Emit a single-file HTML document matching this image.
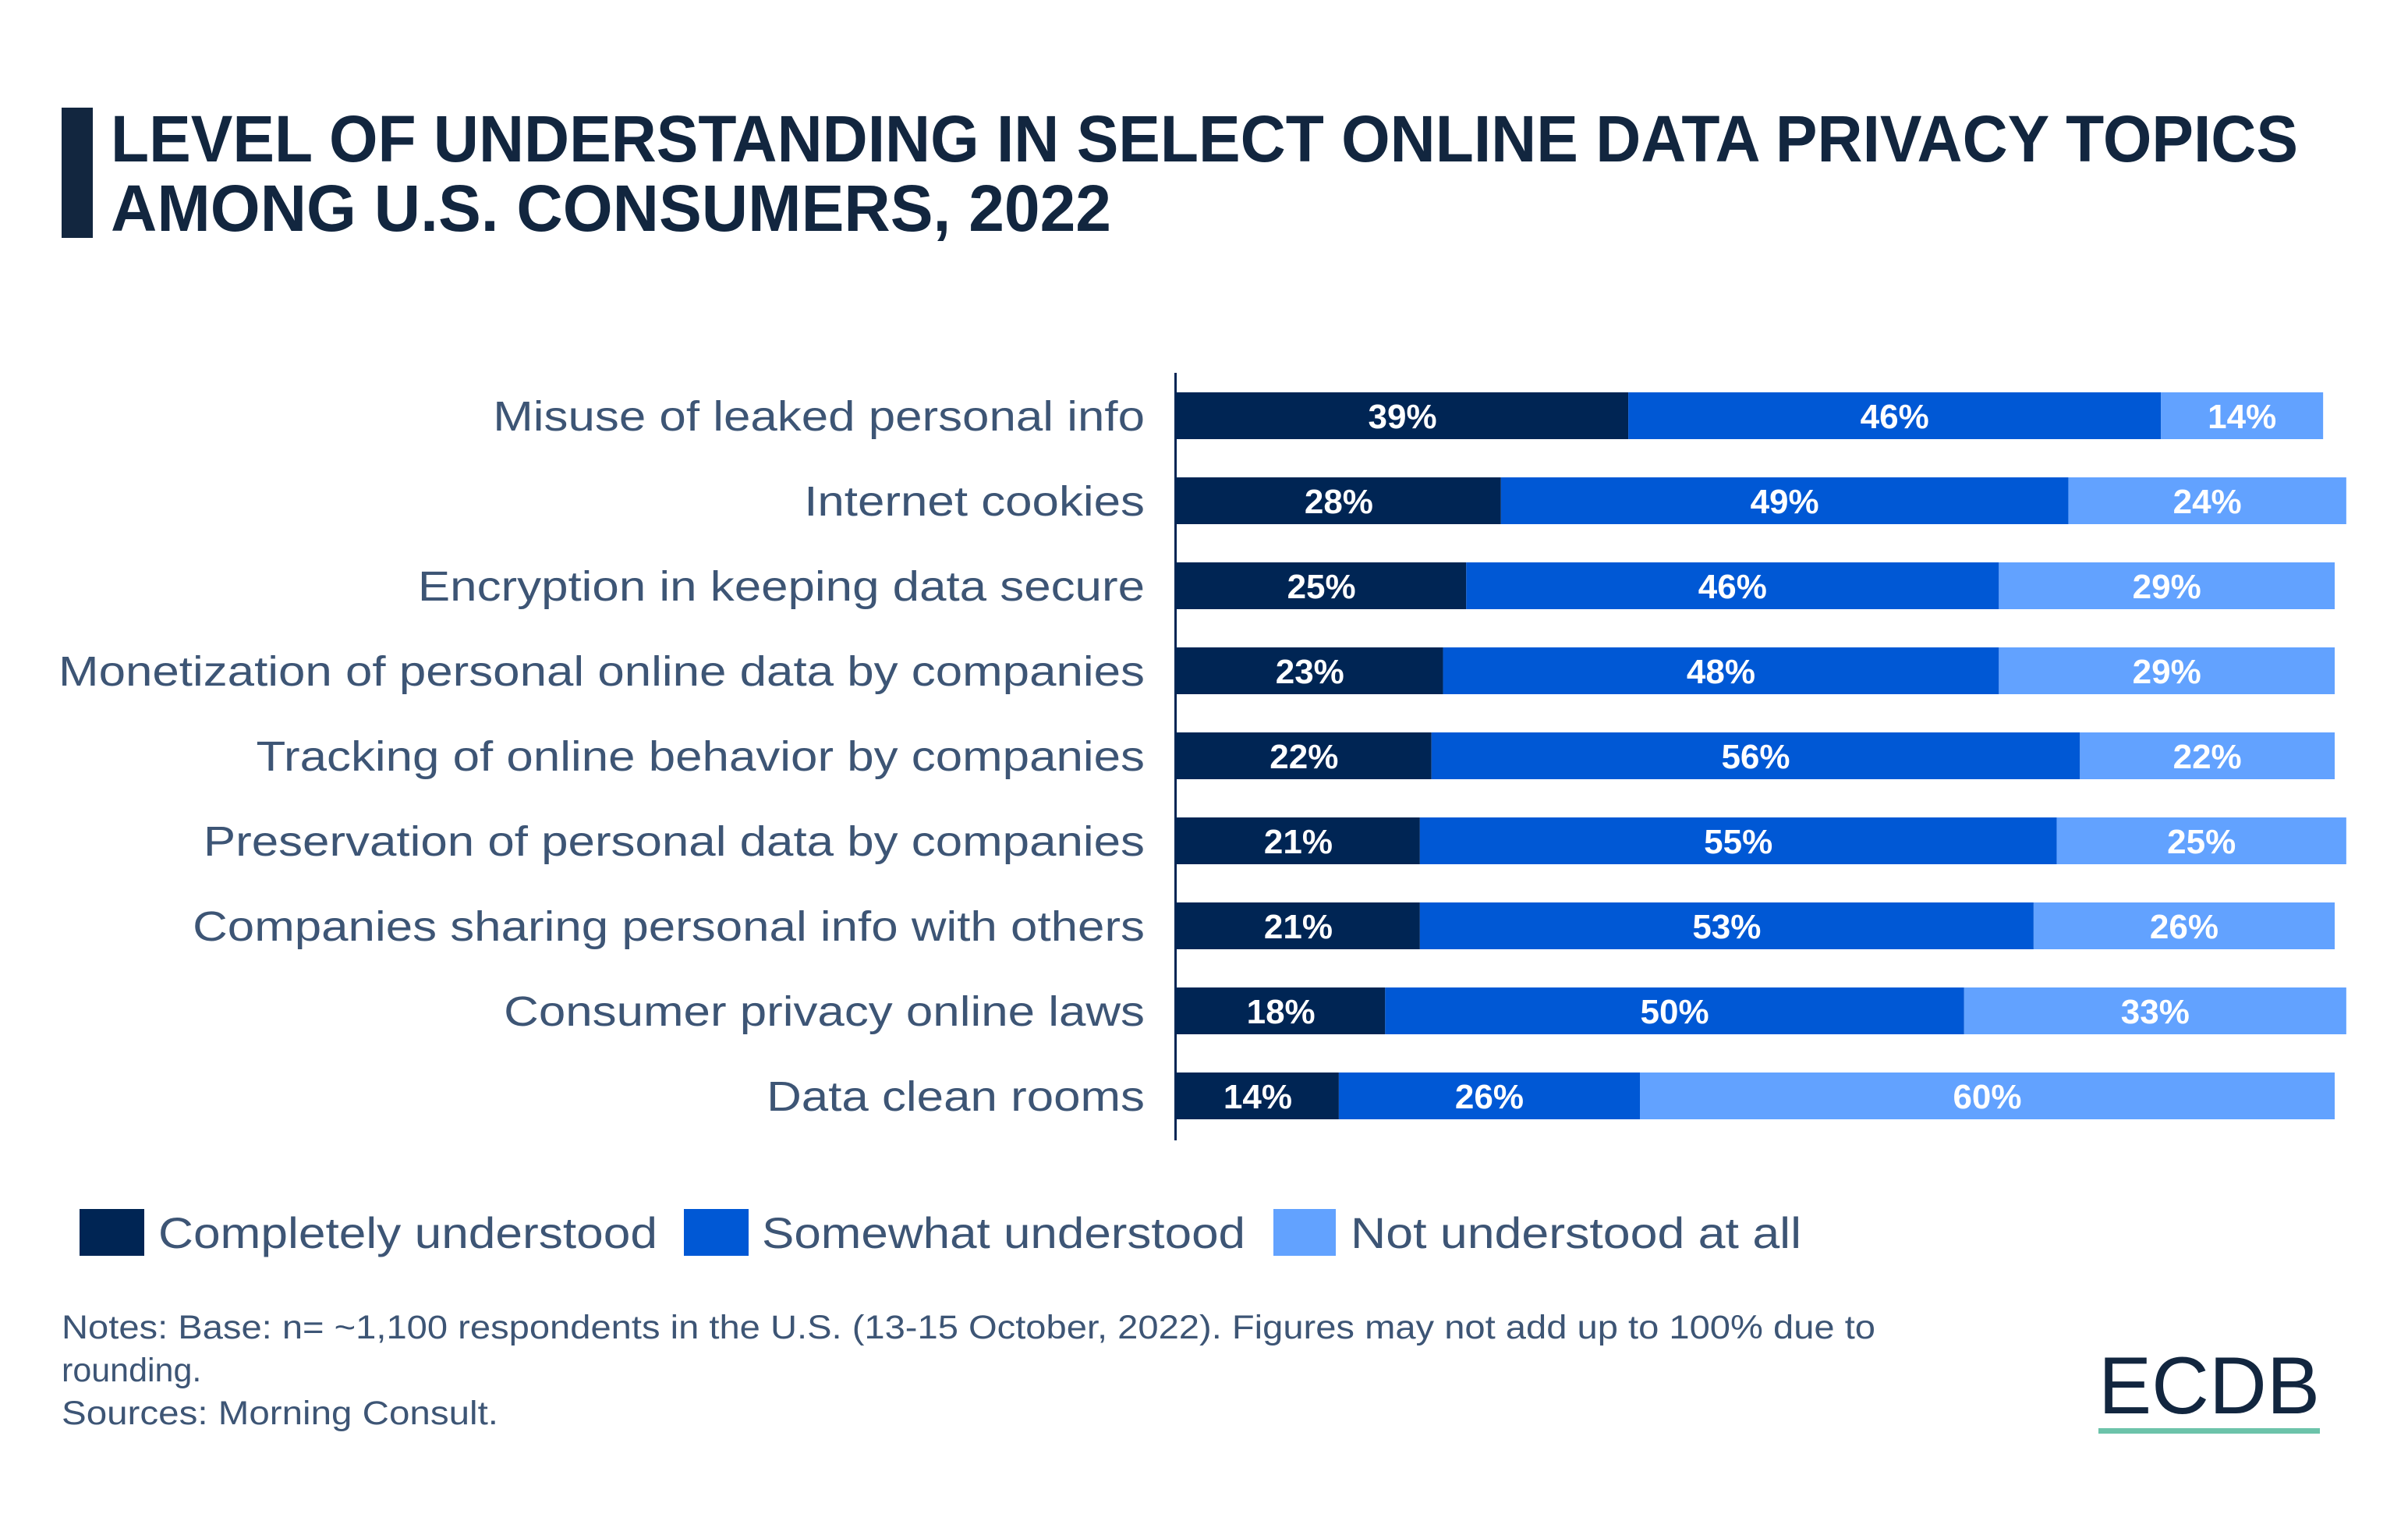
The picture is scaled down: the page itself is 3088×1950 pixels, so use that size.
<!DOCTYPE html>
<html><head><meta charset="utf-8"><style>
html,body{margin:0;padding:0;background:#fff;}
svg{display:block;}
</style></head><body>
<svg id="chart" width="3088" height="1950" viewBox="0 0 3088 1950" xmlns="http://www.w3.org/2000/svg">
<rect x="79" y="138" width="40" height="167" fill="#12263f"/>
<text x="142" y="207" font-family="Liberation Sans, sans-serif" font-weight="bold" font-size="84" fill="#12263f" textLength="2805" lengthAdjust="spacingAndGlyphs">LEVEL OF UNDERSTANDING IN SELECT ONLINE DATA PRIVACY TOPICS</text>
<text x="142" y="296" font-family="Liberation Sans, sans-serif" font-weight="bold" font-size="84" fill="#12263f" textLength="1283" lengthAdjust="spacingAndGlyphs">AMONG U.S. CONSUMERS, 2022</text>
<g id="bars"></g>
<g id="labels" transform="translate(1468,0) scale(1.146,1) translate(-1468,0)"></g>
<line x1="1507.5" y1="478" x2="1507.5" y2="1462" stroke="#002554" stroke-width="3"/>
<g>
<g><rect x="102" y="1550" width="83" height="60" fill="#002554"/><text x="203" y="1600" font-family="Liberation Sans, sans-serif" font-size="56" fill="#3d5575" textLength="640" lengthAdjust="spacingAndGlyphs">Completely understood</text></g>
<g><rect x="877" y="1550" width="83" height="60" fill="#0058d5"/><text x="977" y="1600" font-family="Liberation Sans, sans-serif" font-size="56" fill="#3d5575" textLength="620" lengthAdjust="spacingAndGlyphs">Somewhat understood</text></g>
<g><rect x="1633" y="1550" width="80" height="60" fill="#62a2ff"/><text x="1732" y="1600" font-family="Liberation Sans, sans-serif" font-size="56" fill="#3d5575" textLength="578" lengthAdjust="spacingAndGlyphs">Not understood at all</text></g>
</g>
<g font-family="Liberation Sans, sans-serif" font-size="43" fill="#3d5575">
<text x="79" y="1716" textLength="2326" lengthAdjust="spacingAndGlyphs">Notes: Base: n= ~1,100 respondents in the U.S. (13-15 October, 2022). Figures may not add up to 100% due to</text>
<text x="79" y="1771">rounding.</text>
<text x="79" y="1826" textLength="560" lengthAdjust="spacingAndGlyphs">Sources: Morning Consult.</text>
</g>
<text x="2691" y="1812" font-family="Liberation Sans, sans-serif" font-size="104" fill="#12263f" textLength="284" lengthAdjust="spacingAndGlyphs">ECDB</text>
<rect x="2691" y="1831" width="284" height="7" fill="#6cc3aa"/>
</svg>
<script>
const categories = ["Misuse of leaked personal info","Internet cookies","Encryption in keeping data secure","Monetization of personal online data by companies","Tracking of online behavior by companies","Preservation of personal data by companies","Companies sharing personal info with others","Consumer privacy online laws","Data clean rooms"];
const completely = [39,28,25,23,22,21,21,18,14];
const somewhat = [46,49,46,48,56,55,53,50,26];
const notAtAll = [14,24,29,29,22,25,26,33,60];

const NS = "http://www.w3.org/2000/svg";
const x0 = 1509, pxPer = 14.85;
const rowY0 = 533, rowStep = 109, barH = 60;
function xScale(v){ return x0 + v * pxPer; }
function yScale(i){ return rowY0 + i * rowStep; }
const series = [
  {vals: completely, color: "#002554", name: "completely"},
  {vals: somewhat, color: "#0058d5", name: "somewhat"},
  {vals: notAtAll, color: "#62a2ff", name: "not"}
];
const bars = document.getElementById("bars");
const labels = document.getElementById("labels");
categories.forEach((cat, i) => {
  const cy = yScale(i);
  let cum = 0;
  series.forEach(s => {
    const v = s.vals[i];
    const xa = xScale(cum), xb = xScale(cum + v);
    const r = document.createElementNS(NS, "rect");
    r.setAttribute("x", xa); r.setAttribute("y", cy - barH/2);
    r.setAttribute("width", xb - xa); r.setAttribute("height", barH);
    r.setAttribute("fill", s.color);
    
    
    bars.appendChild(r);
    const t = document.createElementNS(NS, "text");
    t.setAttribute("x", (xa + xb) / 2); t.setAttribute("y", cy + 16);
    t.setAttribute("text-anchor", "middle");
    t.setAttribute("font-family", "Liberation Sans, sans-serif");
    t.setAttribute("font-weight", "bold");
    t.setAttribute("font-size", "44");
    t.setAttribute("fill", "#ffffff");
    t.textContent = v + "%";
    
    
    bars.appendChild(t);
    cum += v;
  });
  const l = document.createElementNS(NS, "text");
  l.setAttribute("x", 1468); l.setAttribute("y", cy + 19);
  l.setAttribute("text-anchor", "end");
  l.setAttribute("font-family", "Liberation Sans, sans-serif");
  l.setAttribute("font-size", "54");
  l.setAttribute("fill", "#3d5575");
  l.textContent = cat;
  
  
  labels.appendChild(l);
});
</script>
</body></html>
